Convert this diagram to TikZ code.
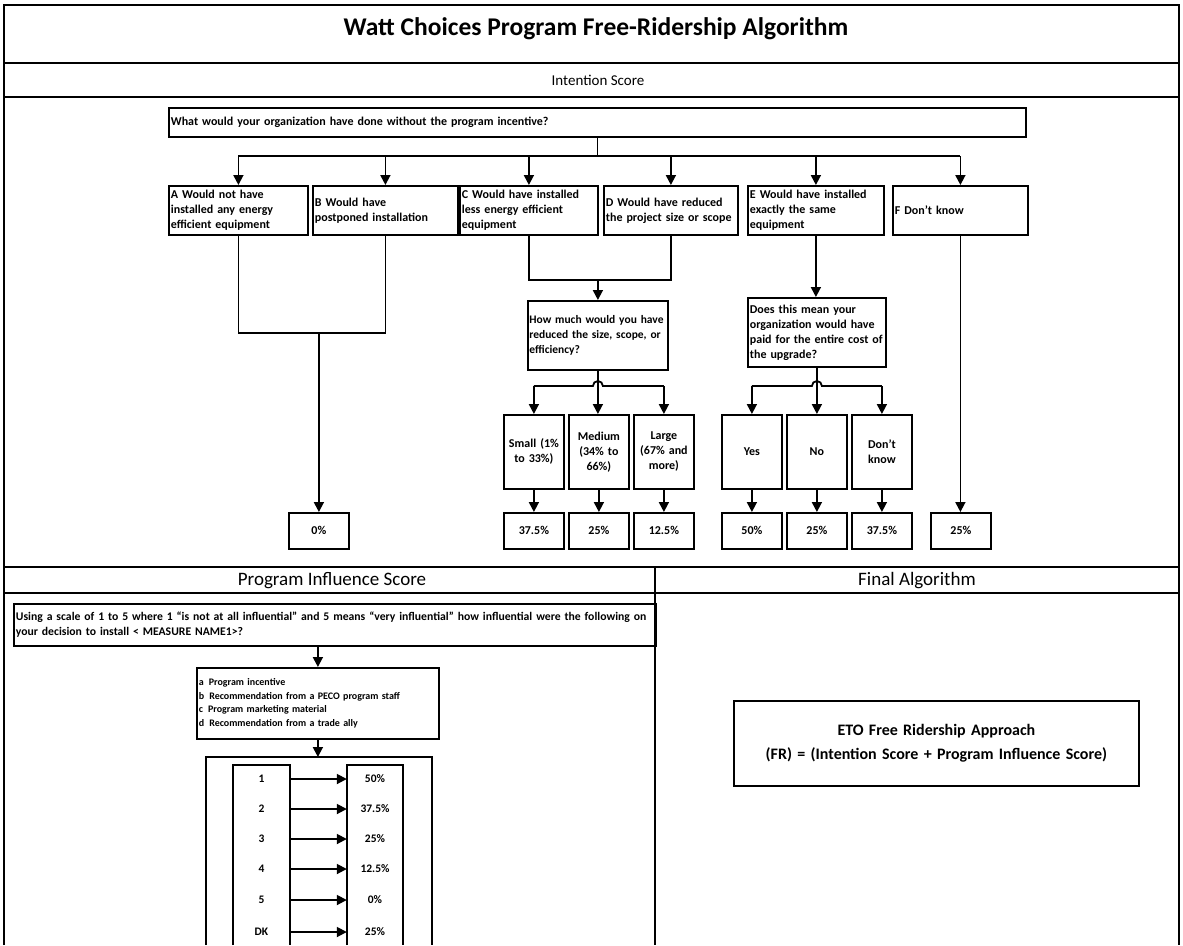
\documentclass[tikz,border=0pt]{standalone}
\usepackage{fontspec}
\setmainfont{Carlito}
\usetikzlibrary{arrows.meta}
\begin{document}
\begin{tikzpicture}[x=1pt,y=-1pt,
  ln/.style={line width=1.8pt},
  box/.style={draw, line width=1.8pt, inner xsep=2pt, inner ysep=1pt, anchor=north west,
    font=\fontsize{12}{15}\selectfont\bfseries},
  pct/.style={box, minimum width=60pt, minimum height=36pt, text width=56pt, align=center},
  opt/.style={box, minimum height=49pt, align=left},
  arr/.style={line width=1.8pt, -{Triangle[width=10pt,length=10pt]}},
  rowlbl/.style={minimum width=57pt, inner sep=0pt, font=\fontsize{11.5}{12}\selectfont\bfseries},
  hdr/.style={font=\fontsize{19}{22}\selectfont},
]
\useasboundingbox (0,0) rectangle (1183,945);

% frame
\draw[ln] (4,945) -- (4,5) -- (1179,5) -- (1179,945);
\draw[ln] (4,63) -- (1179,63);
\draw[ln] (4,97) -- (1179,97);
\draw[ln] (4,567) -- (1179,567);
\draw[ln] (4,593) -- (1179,593);
\draw[ln] (655,567) -- (655,945);

\node[font=\fontsize{25.5}{30}\selectfont\bfseries] (title) at (596,29) {Watt Choices Program Free-Ridership Algorithm};
\node[font=\fontsize{15}{18}\selectfont] (hint) at (598,80) {Intention Score};
\node[hdr] (hpi) at (332,581) {Program Influence Score};
\node[hdr] (hfa) at (917,581) {Final Algorithm};

% Intention score
\node[box, minimum width=857pt, minimum height=29pt, text width=853pt, align=left] (Q) at (168,107)
  {What would your organization have done without the program incentive?};

\node[opt, minimum width=139pt, text width=135pt] (A) at (168,185) {A Would not have\\installed any energy\\efficient equipment};
\node[opt, minimum width=145pt, text width=141pt] (B) at (312,185) {B Would have\\postponed installation};
\node[opt, minimum width=138pt, text width=134pt] (C) at (459,185) {C Would have installed\\less energy efficient\\equipment};
\node[opt, minimum width=134pt, text width=130pt] (D) at (603,185) {D Would have reduced\\the project size or scope};
\node[opt, minimum width=136pt, text width=132pt] (E) at (747,185) {E Would have installed\\exactly the same\\equipment};
\node[opt, minimum width=135pt, text width=131pt] (F) at (892,185) {F Don't know};

\coordinate (br) at (0,156);
\draw[ln] (Q.south) -- (Q.south |- br);
\draw[ln] (A.north |- br) -- (F.north |- br);
\foreach \n in {A,B,C,D,E,F} \draw[arr] (\n.north |- br) -- (\n.north);

\node[box, minimum width=140pt, minimum height=69pt, text width=137pt, inner xsep=1.5pt, align=left,
  font=\fontsize{11.5}{15}\selectfont\bfseries] (HM) at (527,300)
  {How much would you have\\reduced the size, scope, or\\efficiency?};
\node[box, minimum width=138pt, minimum height=69pt, text width=134pt, align=left] (DS) at (747,297)
  {Does this mean your\\organization would have\\paid for the entire cost of\\the upgrade?};

\node[pct, minimum height=74pt] (Sm) at (503,414) {Small (1\%\\to 33\%)};
\node[pct, minimum height=74pt] (Md) at (568,414) {Medium\\(34\% to\\66\%)};
\node[pct, minimum height=74pt] (Lg) at (633,414) {Large\\(67\% and\\more)};
\node[pct, minimum height=74pt] (Ys) at (721,414) {Yes};
\node[pct, minimum height=74pt] (No) at (786,414) {No};
\node[pct, minimum height=74pt] (DK) at (851,414) {Don't\\know};

\node[pct] (P0) at (288,512) {0\%};
\node[pct] (PS) at (503,512) {37.5\%};
\node[pct] (PM) at (568,512) {25\%};
\node[pct] (PL) at (633,512) {12.5\%};
\node[pct] (PY) at (721,512) {50\%};
\node[pct] (PN) at (786,512) {25\%};
\node[pct] (PD) at (851,512) {37.5\%};
\node[pct] (PF) at (930,512) {25\%};

% A/B bracket
\coordinate (abl) at (0,333);
\draw[ln] (A.south) -- (A.south |- abl) -- (B.south |- abl) -- (B.south);
\draw[arr] (P0.north |- abl) -- (P0.north);
% C/D bracket
\coordinate (cdl) at (0,280);
\draw[ln] (C.south) -- (C.south |- cdl) -- (D.south |- cdl) -- (D.south);
\draw[arr] (HM.north |- cdl) -- (HM.north);
% E
\draw[arr] (E.south) -- (E.south |- DS.north);
% F
\draw[arr] (F.south) -- (F.south |- PF.north);

% branches with hop
\coordinate (lv) at (0,386);
\draw[ln] (Sm.north |- lv) -- ([xshift=-5pt]HM.south |- lv) arc[start angle=180, end angle=0, radius=5pt] -- (Lg.north |- lv);
\draw[arr] (Sm.north |- lv) -- (Sm.north);
\draw[arr] (Lg.north |- lv) -- (Lg.north);
\draw[arr] (HM.south) -- (HM.south |- Md.north);

\draw[ln] (Ys.north |- lv) -- ([xshift=-5pt]DS.south |- lv) arc[start angle=180, end angle=0, radius=5pt] -- (DK.north |- lv);
\draw[arr] (Ys.north |- lv) -- (Ys.north);
\draw[arr] (DK.north |- lv) -- (DK.north);
\draw[arr] (DS.south) -- (DS.south |- No.north);

\foreach \a/\b in {Sm/PS, Md/PM, Lg/PL, Ys/PY, No/PN, DK/PD} \draw[arr] (\a.south) -- (\b.north);

% Program influence score
\node[box, minimum width=642pt, minimum height=42pt, text width=638pt, align=left,
  font=\fontsize{11.7}{15}\selectfont\bfseries] (PQ) at (13,603)
  {Using a scale of 1 to 5 where 1 “is not at all influential” and 5 means “very influential” how influential were the following on\\your decision to install < MEASURE NAME1>?};

\node[box, minimum width=242pt, minimum height=71pt, text width=238pt, align=left,
  font=\fontsize{10}{13.5}\selectfont\bfseries] (LB) at (196,667)
  {a\enspace Program incentive\\b\enspace Recommendation from a PECO program staff\\c\enspace Program marketing material\\d\enspace Recommendation from a trade ally};

\draw[arr] (PQ.south -| LB.north) -- (LB.north);
\coordinate (obt) at (317,757);
\draw[arr] (LB.south) -- (LB.south |- obt);

\draw[ln] (206,945) -- (206,757) -- (432,757) -- (432,945);
\draw[ln] (233,945) -- (233,765) -- (290,765) -- (290,945);
\draw[ln] (347,945) -- (347,765) -- (403,765) -- (403,945);

\foreach \i/\y/\l/\r in {1/779/1/50\%, 2/809/2/37.5\%, 3/839/3/25\%, 4/869/4/12.5\%, 5/900/5/0\%, 6/932/DK/25\%} {
  \node[rowlbl] (l\i) at (261.5,\y) {\l};
  \node[rowlbl, minimum width=56pt] (r\i) at (375,\y) {\r};
  \draw[arr] (l\i.east) -- (r\i.west);
}

% Final algorithm
\node[box, minimum width=405pt, minimum height=85pt, text width=401pt, align=center,
  font=\fontsize{16}{24}\selectfont\bfseries] (FB) at (733,700)
  {ETO Free Ridership Approach\\(FR) = (Intention Score + Program Influence Score)};
\end{tikzpicture}
\end{document}
